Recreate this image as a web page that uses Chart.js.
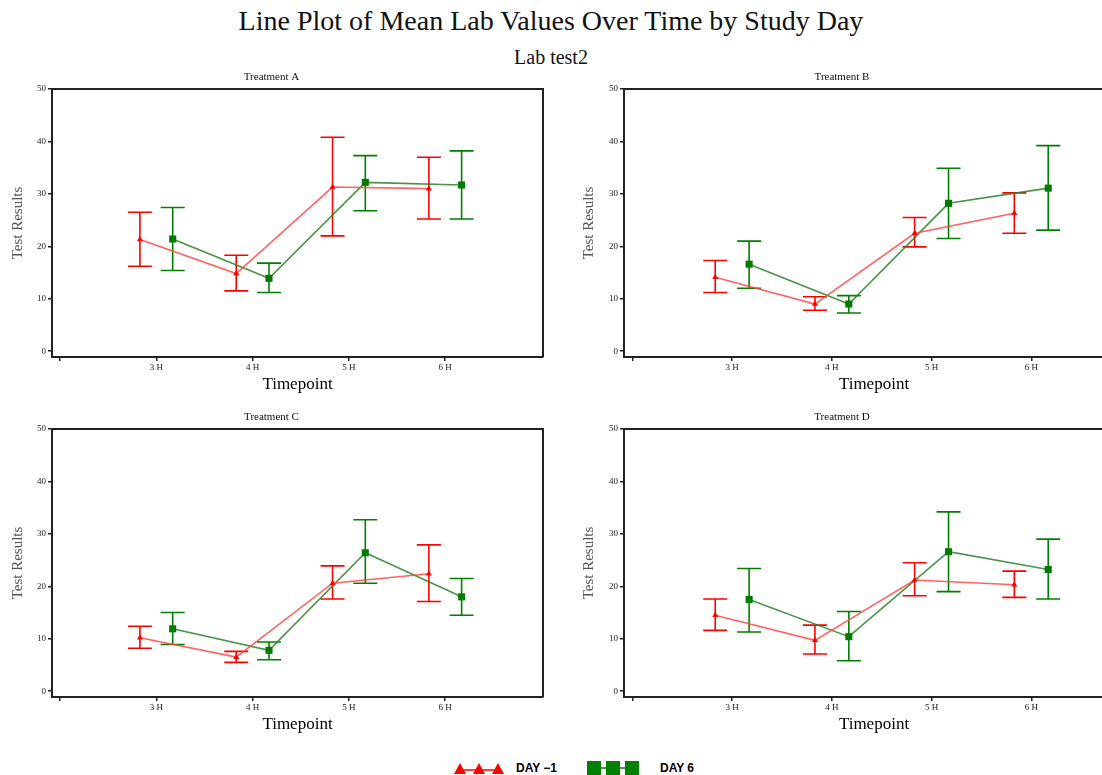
<!DOCTYPE html>
<html lang="en">
<head>
    <meta charset="UTF-8">
    <title>Line Plot of Mean Lab Values Over Time by Study Day</title>
    <script src="https://cdn.jsdelivr.net/npm/chart.js"></script>
    <style>
        body { margin: 0; background: #fff; overflow: hidden; }
        #page { position: relative; width: 1102px; height: 775px; overflow: hidden; }
        .title { position: absolute; left: 0; width: 1102px; text-align: center; font-family: "Liberation Serif", serif; color: #111; }
        .panel { position: absolute; }
        .leg { position: absolute; font-family: "Liberation Sans", Arial, sans-serif; font-weight: bold; font-size: 12px; color: #000; }
    </style>
</head>
<body>
<div id="page">
    <div class="title" style="top:5px; font-size:28px;">Line Plot of Mean Lab Values Over Time by Study Day</div>
    <div class="title" style="top:46px; font-size:20px;">Lab test2</div>

    <div class="panel" style="left:0; top:70px; width:548px; height:330px;"><canvas id="chartA"></canvas></div>
    <div class="panel" style="left:560px; top:70px; width:600px; height:330px;"><canvas id="chartB"></canvas></div>
    <div class="panel" style="left:0; top:410px; width:548px; height:330px;"><canvas id="chartC"></canvas></div>
    <div class="panel" style="left:560px; top:410px; width:600px; height:330px;"><canvas id="chartD"></canvas></div>

    <svg class="leg" style="left:454px; top:761px;" width="50" height="14">
        <line x1="5" y1="9" x2="45" y2="9" stroke="#ff0000" stroke-width="1.5"/>
        <polygon points="0,13 6,2 12,13" fill="#ff0000"/>
        <polygon points="19,13 25,2 31,13" fill="#ff0000"/>
        <polygon points="38,13 44,2 50,13" fill="#ff0000"/>
    </svg>
    <div class="leg" style="left:516px; top:761px;">DAY &minus;1</div>
    <svg class="leg" style="left:587px; top:761px;" width="52" height="14">
        <line x1="0" y1="7" x2="52" y2="7" stroke="#008000" stroke-width="1.5"/>
        <rect x="0" y="0" width="14" height="14" fill="#008000"/>
        <rect x="19" y="0" width="14" height="14" fill="#008000"/>
        <rect x="38" y="0" width="14" height="14" fill="#008000"/>
    </svg>
    <div class="leg" style="left:660px; top:761px;">DAY 6</div>
</div>

<script>
    // categories
    const timepoints = ['3 H', '4 H', '5 H', '6 H'];
    const seriesNames = ['DAY -1', 'DAY 6'];

    // Treatment A
    const meanA1 = [21.3, 14.8, 31.3, 31.0];
    const lowA1  = [16.2, 11.5, 22.0, 25.2];
    const highA1 = [26.5, 18.3, 40.8, 37.0];
    const meanA6 = [21.4, 13.9, 32.2, 31.7];
    const lowA6  = [15.4, 11.2, 26.8, 25.2];
    const highA6 = [27.4, 16.8, 37.3, 38.2];

    // Treatment B
    const meanB1 = [14.1, 9.0, 22.5, 26.3];
    const lowB1  = [11.2, 7.8, 19.9, 22.5];
    const highB1 = [17.3, 10.4, 25.5, 30.2];
    const meanB6 = [16.6, 9.0, 28.2, 31.1];
    const lowB6  = [12.0, 7.3, 21.5, 23.1];
    const highB6 = [21.0, 10.6, 34.9, 39.2];

    // Treatment C
    const meanC1 = [10.2, 6.5, 20.6, 22.4];
    const lowC1  = [8.2, 5.5, 17.6, 17.1];
    const highC1 = [12.4, 7.6, 23.9, 27.9];
    const meanC6 = [11.9, 7.8, 26.4, 18.0];
    const lowC6  = [8.9, 6.0, 20.6, 14.5];
    const highC6 = [15.0, 9.4, 32.7, 21.5];

    // Treatment D
    const meanD1 = [14.5, 9.7, 21.2, 20.3];
    const lowD1  = [11.6, 7.1, 18.2, 17.9];
    const highD1 = [17.6, 12.6, 24.5, 22.9];
    const meanD6 = [17.5, 10.4, 26.6, 23.2];
    const lowD6  = [11.3, 5.8, 19.0, 17.6];
    const highD6 = [23.4, 15.2, 34.2, 29.0];

    const yTicks = [0, 10, 20, 30, 40, 50];

    const serif = '"Liberation Serif", "Times New Roman", serif';
    const dodge = 0.17; // day -1 left of the timepoint, day 6 right

    // error bars drawn with the chart's own scales
    const errorBars = {
        id: 'errorBars',
        beforeDatasetsDraw(chart) {
            const ctx = chart.ctx;
            const xs = chart.scales.x, ys = chart.scales.y;
            chart.data.datasets.forEach(ds => {
                ctx.save();
                ctx.strokeStyle = ds.errColor;
                ctx.lineWidth = 1.6;
                ds.data.forEach((p, i) => {
                    const x = xs.getPixelForValue(p.x);
                    const y1 = ys.getPixelForValue(ds.low[i]);
                    const y2 = ys.getPixelForValue(ds.high[i]);
                    ctx.beginPath();
                    ctx.moveTo(x, y1); ctx.lineTo(x, y2);
                    ctx.moveTo(x - 12, y1); ctx.lineTo(x + 12, y1);
                    ctx.moveTo(x - 12, y2); ctx.lineTo(x + 12, y2);
                    ctx.stroke();
                });
                ctx.restore();
            });
        }
    };

    // top and right edges of the frame
    const frame = {
        id: 'frame',
        afterDraw(chart) {
            const a = chart.chartArea, ctx = chart.ctx;
            ctx.save();
            ctx.strokeStyle = '#222';
            ctx.lineWidth = 2;
            ctx.beginPath();
            ctx.moveTo(a.left, a.top); ctx.lineTo(a.right, a.top); ctx.lineTo(a.right, a.bottom);
            ctx.stroke();
            ctx.restore();
        }
    };

    function points(values, shift) {
        return values.map((v, i) => ({ x: i + 1 + shift, y: v }));
    }

    function makePanel(id, title, m1, l1, h1, m6, l6, h6, geo) {
        new Chart(document.getElementById(id), {
            type: 'line',
            data: {
                datasets: [{
                    label: seriesNames[0],
                    data: points(m1, -dodge),
                    low: l1, high: h1,
                    errColor: '#ff0000',
                    borderColor: 'rgba(255, 70, 70, 0.85)',
                    backgroundColor: '#ff0000',
                    borderWidth: 1.6,
                    pointStyle: 'triangle',
                    pointRadius: 3.5,
                    pointBorderWidth: 0
                }, {
                    label: seriesNames[1],
                    data: points(m6, dodge),
                    low: l6, high: h6,
                    errColor: '#008000',
                    borderColor: 'rgba(40, 130, 40, 0.85)',
                    backgroundColor: '#007a00',
                    borderWidth: 1.6,
                    pointStyle: 'rect',
                    pointRadius: 5,
                    pointBorderWidth: 0
                }]
            },
            options: {
                responsive: true,
                maintainAspectRatio: false,
                animation: false,
                layout: { padding: { left: 0, right: geo.padRight, top: 0, bottom: 0 } },
                plugins: {
                    legend: { display: false },
                    tooltip: { enabled: false },
                    title: {
                        display: true,
                        text: title,
                        color: '#111',
                        font: { family: serif, size: 11, weight: 'normal' },
                        padding: { top: 1, bottom: 4.8 }
                    }
                },
                scales: {
                    x: {
                        type: 'linear',
                        min: geo.xMin,
                        max: geo.xMax,
                        afterBuildTicks: s => { s.ticks = [0, 1, 2, 3, 4].map(v => ({ value: v })); },
                        afterFit: s => { s.height = 43; },
                        ticks: {
                            callback: v => timepoints[v - 1] || '',
                            color: '#222',
                            font: { family: serif, size: 9 },
                            padding: 1,
                            maxRotation: 0
                        },
                        grid: { display: true, drawOnChartArea: false, drawTicks: true, tickLength: 4, color: '#222', lineWidth: 1.5 },
                        border: { display: true, color: '#222', width: 2 },
                        title: {
                            display: true,
                            text: 'Timepoint',
                            color: '#000',
                            font: { family: serif, size: 17 },
                            padding: { top: 0, bottom: 4.8 }
                        }
                    },
                    y: {
                        min: -1.1,
                        max: 50,
                        afterBuildTicks: s => { s.ticks = yTicks.map(v => ({ value: v })); },
                        afterFit: s => { s.width = geo.yWidth; },
                        ticks: {
                            color: '#222',
                            font: { family: serif, size: 9 },
                            padding: 2
                        },
                        grid: { display: true, drawOnChartArea: false, drawTicks: true, tickLength: 4, color: '#222', lineWidth: 1.5 },
                        border: { display: true, color: '#222', width: 2 },
                        title: {
                            display: true,
                            text: 'Test Results',
                            color: '#555',
                            font: { family: serif, size: 15 },
                            padding: { top: geo.yTitlePad, bottom: 0 }
                        }
                    }
                }
            },
            plugins: [errorBars, frame]
        });
    }

    const leftGeo  = { padRight: 5,  yWidth: 52, yTitlePad: 9,  xMin: -0.083, xMax: 5.015 };
    const rightGeo = { padRight: 36, yWidth: 64, yTitlePad: 20, xMin: -0.085, xMax: 4.93 };

    makePanel('chartA', 'Treatment A', meanA1, lowA1, highA1, meanA6, lowA6, highA6, leftGeo);
    makePanel('chartB', 'Treatment B', meanB1, lowB1, highB1, meanB6, lowB6, highB6, rightGeo);
    makePanel('chartC', 'Treatment C', meanC1, lowC1, highC1, meanC6, lowC6, highC6, leftGeo);
    makePanel('chartD', 'Treatment D', meanD1, lowD1, highD1, meanD6, lowD6, highD6, rightGeo);
</script>
</body>
</html>
